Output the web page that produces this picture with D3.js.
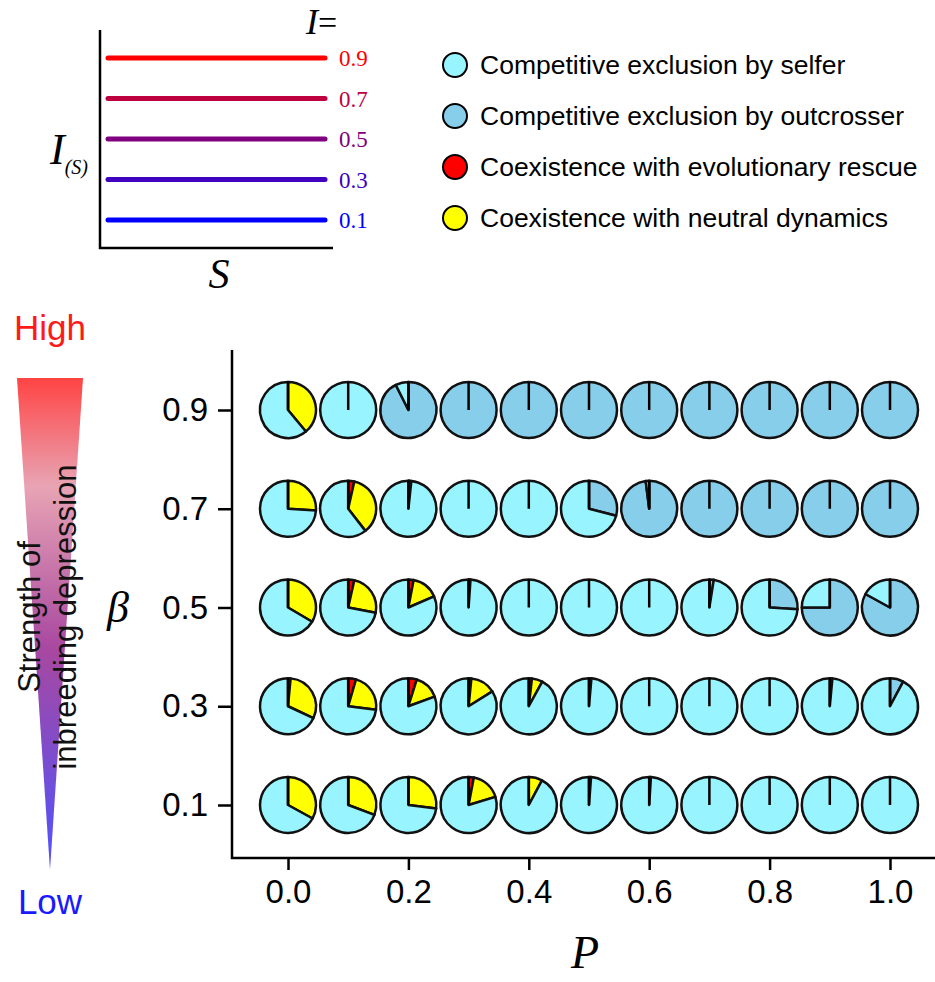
<!DOCTYPE html>
<html>
<head>
<meta charset="utf-8">
<script src="https://d3js.org/d3.v7.min.js"></script>
<style>
  body { margin: 0; background: #fff; }
  svg text { font-family: "Liberation Sans", Arial, sans-serif; }
  .serif { font-family: "Liberation Serif", "DejaVu Serif", serif; }
</style>
</head>
<body>
<div id="chart"></div>
<script>
// P values (columns) and beta values (rows)
var pValues = [0.0, 0.1, 0.2, 0.3, 0.4, 0.5, 0.6, 0.7, 0.8, 0.9, 1.0];
var betaValues = [0.9, 0.7, 0.5, 0.3, 0.1];
var pTicks = [0.0, 0.2, 0.4, 0.6, 0.8, 1.0];

// share of each outcome, one row per beta (same order as betaValues)
var outcrosser = [
  [0, 0, 0.926, 1, 1, 1, 1, 1, 1, 1, 1],
  [0, 0, 0, 0, 0, 0.29, 0.98, 1, 1, 1, 1],
  [0, 0, 0, 0, 0, 0, 0, 0.025, 0.26, 0.75, 0.83],
  [0, 0, 0, 0, 0, 0, 0, 0, 0, 0.015, 0.078],
  [0, 0, 0, 0, 0, 0, 0, 0, 0, 0, 0]
];
var rescue = [
  [0, 0, 0, 0, 0, 0, 0, 0, 0, 0, 0],
  [0, 0.035, 0.005, 0, 0, 0, 0, 0, 0, 0, 0],
  [0, 0.035, 0.03, 0.003, 0, 0, 0, 0, 0, 0, 0],
  [0.015, 0.045, 0.048, 0.016, 0.018, 0.004, 0, 0, 0, 0, 0],
  [0, 0, 0, 0.03, 0, 0.012, 0, 0, 0, 0, 0]
];
var neutral = [
  [0.39, 0, 0, 0, 0, 0, 0, 0, 0, 0, 0],
  [0.26, 0.36, 0.012, 0, 0, 0, 0, 0, 0, 0, 0],
  [0.335, 0.245, 0.155, 0.008, 0, 0, 0, 0, 0, 0, 0],
  [0.305, 0.225, 0.146, 0.145, 0.062, 0.01, 0, 0, 0, 0, 0],
  [0.33, 0.307, 0.27, 0.173, 0.078, 0, 0.01, 0, 0, 0, 0]
];
var selfer = [
  [0.61, 1, 0.074, 0, 0, 0, 0, 0, 0, 0, 0],
  [0.74, 0.605, 0.983, 1, 1, 0.71, 0.02, 0, 0, 0, 0],
  [0.665, 0.72, 0.815, 0.989, 1, 1, 1, 0.975, 0.74, 0.25, 0.17],
  [0.68, 0.73, 0.806, 0.839, 0.92, 0.986, 1, 1, 1, 0.985, 0.922],
  [0.67, 0.693, 0.73, 0.797, 0.922, 0.988, 0.99, 1, 1, 1, 1]
];

// legend
var outcomes = ["Competitive exclusion by selfer", "Competitive exclusion by outcrosser",
                "Coexistence with evolutionary rescue", "Coexistence with neutral dynamics"];
var outcomeColors = ["#98F5FF", "#87CEEB", "#FF0000", "#FFFF00"];

// inset: inbreeding depression profile
var iValues = [0.9, 0.7, 0.5, 0.3, 0.1];
var iColors = ["#FF0000", "#BF0040", "#800080", "#4000BF", "#0000FF"];

var W = 935, H = 982;
var svg = d3.select("#chart").append("svg").attr("width", W).attr("height", H);

// ---------- inset ----------
var inset = svg.append("g");
var ix = d3.scaleLinear().domain([0, 1]).range([108, 325]);
var iy = d3.scaleLinear().domain([0.1, 0.9]).range([220, 58]);

inset.append("path")
  .attr("d", "M100,30 L100,248 L333,248")
  .attr("fill", "none").attr("stroke", "#000").attr("stroke-width", 2.5);

inset.selectAll("line.il")
  .data(iValues).enter().append("line")
  .attr("x1", ix(0)).attr("x2", ix(1))
  .attr("y1", d => iy(d)).attr("y2", d => iy(d))
  .attr("stroke", (d, i) => iColors[i])
  .attr("stroke-width", 5).attr("stroke-linecap", "round");

inset.selectAll("text.il")
  .data(iValues).enter().append("text")
  .attr("class", "serif")
  .attr("x", 339).attr("y", d => iy(d) + 8)
  .attr("font-size", 23)
  .attr("fill", (d, i) => iColors[i])
  .text(d => d3.format(".1f")(d));

var ieq = inset.append("text").attr("class", "serif").attr("x", 306).attr("y", 34).attr("font-size", 36);
ieq.append("tspan").attr("font-style", "italic").text("I");
ieq.append("tspan").attr("font-size", 34).text("=");

var iS = inset.append("text").attr("class", "serif").attr("x", 50).attr("y", 164).attr("font-size", 44);
iS.append("tspan").attr("font-style", "italic").text("I");
iS.append("tspan").attr("font-style", "italic").attr("font-size", 20).attr("dy", 10).text("(S)");

inset.append("text").attr("class", "serif")
  .attr("x", 219).attr("y", 288).attr("font-size", 42)
  .attr("font-style", "italic").attr("text-anchor", "middle").text("S");

// ---------- legend ----------
var legend = svg.append("g");
var ly = d3.scalePoint().domain(outcomes).range([65, 218]);
legend.selectAll("circle")
  .data(outcomes).enter().append("circle")
  .attr("cx", 455).attr("cy", d => ly(d)).attr("r", 12)
  .attr("fill", (d, i) => outcomeColors[i])
  .attr("stroke", "#000").attr("stroke-width", 2);
legend.selectAll("text")
  .data(outcomes).enter().append("text")
  .attr("x", 480).attr("y", d => ly(d) + 9)
  .attr("font-size", 26.5)
  .text(d => d);

// ---------- main pie grid ----------
var x = d3.scaleLinear().domain([0, 1]).range([288, 890]);
var y = d3.scaleLinear().domain([0.1, 0.9]).range([805, 410]);
var R = 28;

var main = svg.append("g");
main.append("path")
  .attr("d", "M232,350 L232,858 L935,858")
  .attr("fill", "none").attr("stroke", "#000").attr("stroke-width", 2.5);

var yAxis = main.append("g")
  .attr("transform", "translate(232,0)")
  .call(d3.axisLeft(y).tickValues(betaValues).tickSize(14).tickPadding(10).tickFormat(d3.format(".1f")));
var xAxis = main.append("g")
  .attr("transform", "translate(0,858)")
  .call(d3.axisBottom(x).tickValues(pTicks).tickSize(12).tickPadding(10).tickFormat(d3.format(".1f")));
[yAxis, xAxis].forEach(function(a) {
  a.select(".domain").remove();
  a.selectAll(".tick line").attr("stroke-width", 2.5);
  a.selectAll(".tick text").attr("font-size", 33).attr("font-family", "Liberation Sans, Arial, sans-serif").attr("fill", "#000");
});

main.append("text").attr("class", "serif")
  .attr("x", 585).attr("y", 968).attr("font-size", 46)
  .attr("font-style", "italic").attr("text-anchor", "middle").text("P");
main.append("text").attr("class", "serif")
  .attr("x", 118).attr("y", 622).attr("font-size", 44)
  .attr("font-style", "italic").attr("text-anchor", "middle").text("\u03B2");

var pie = d3.pie().sort(null).value(d => d.v);
var arc = d3.arc().innerRadius(0).outerRadius(R);

var cells = [];
betaValues.forEach(function(b, r) {
  pValues.forEach(function(p, c) {
    cells.push({
      beta: b, p: p,
      parts: [
        { v: outcrosser[r][c], col: outcomeColors[1] },
        { v: rescue[r][c], col: outcomeColors[2] },
        { v: neutral[r][c], col: outcomeColors[3] },
        { v: selfer[r][c], col: outcomeColors[0] }
      ]
    });
  });
});

var pies = main.selectAll("g.pie")
  .data(cells).enter().append("g")
  .attr("class", "pie")
  .attr("transform", d => "translate(" + x(d.p) + "," + y(d.beta) + ")");

pies.selectAll("path")
  .data(d => pie(d.parts).filter(s => s.data.v > 0))
  .enter().append("path")
  .attr("d", arc)
  .attr("fill", s => s.data.col)
  .attr("stroke", "#111").attr("stroke-width", 2.5)
  .attr("stroke-linejoin", "round");

pies.append("line")
  .attr("x1", 0).attr("y1", 0).attr("x2", 0).attr("y2", -R)
  .attr("stroke", "#000").attr("stroke-width", 2.5);

// ---------- strength gradient ----------
var defs = svg.append("defs");
var grad = defs.append("linearGradient").attr("id", "strength")
  .attr("x1", 0).attr("y1", 0).attr("x2", 0).attr("y2", 1);
grad.append("stop").attr("offset", "0%").attr("stop-color", "#FF4444");
grad.append("stop").attr("offset", "22%").attr("stop-color", "#E8A4B4");
grad.append("stop").attr("offset", "55%").attr("stop-color", "#A848A0");
grad.append("stop").attr("offset", "100%").attr("stop-color", "#4E52FF");

svg.append("path")
  .attr("d", "M17,378 L83,378 L50,870 Z")
  .attr("fill", "url(#strength)");

svg.append("text").attr("x", 50).attr("y", 340).attr("font-size", 35)
  .attr("text-anchor", "middle").attr("fill", "#FF1A1A").text("High");
svg.append("text").attr("x", 50).attr("y", 914).attr("font-size", 35)
  .attr("text-anchor", "middle").attr("fill", "#1A1AFF").text("Low");

var rot = svg.append("text")
  .attr("transform", "translate(40,617) rotate(-90)")
  .attr("font-size", 31).attr("text-anchor", "middle").attr("fill", "#111");
rot.append("tspan").attr("x", 0).attr("dy", 0).text("Strength of");
rot.append("tspan").attr("x", 0).attr("dy", 36).text("inbreeding depression");
</script>
</body>
</html>
